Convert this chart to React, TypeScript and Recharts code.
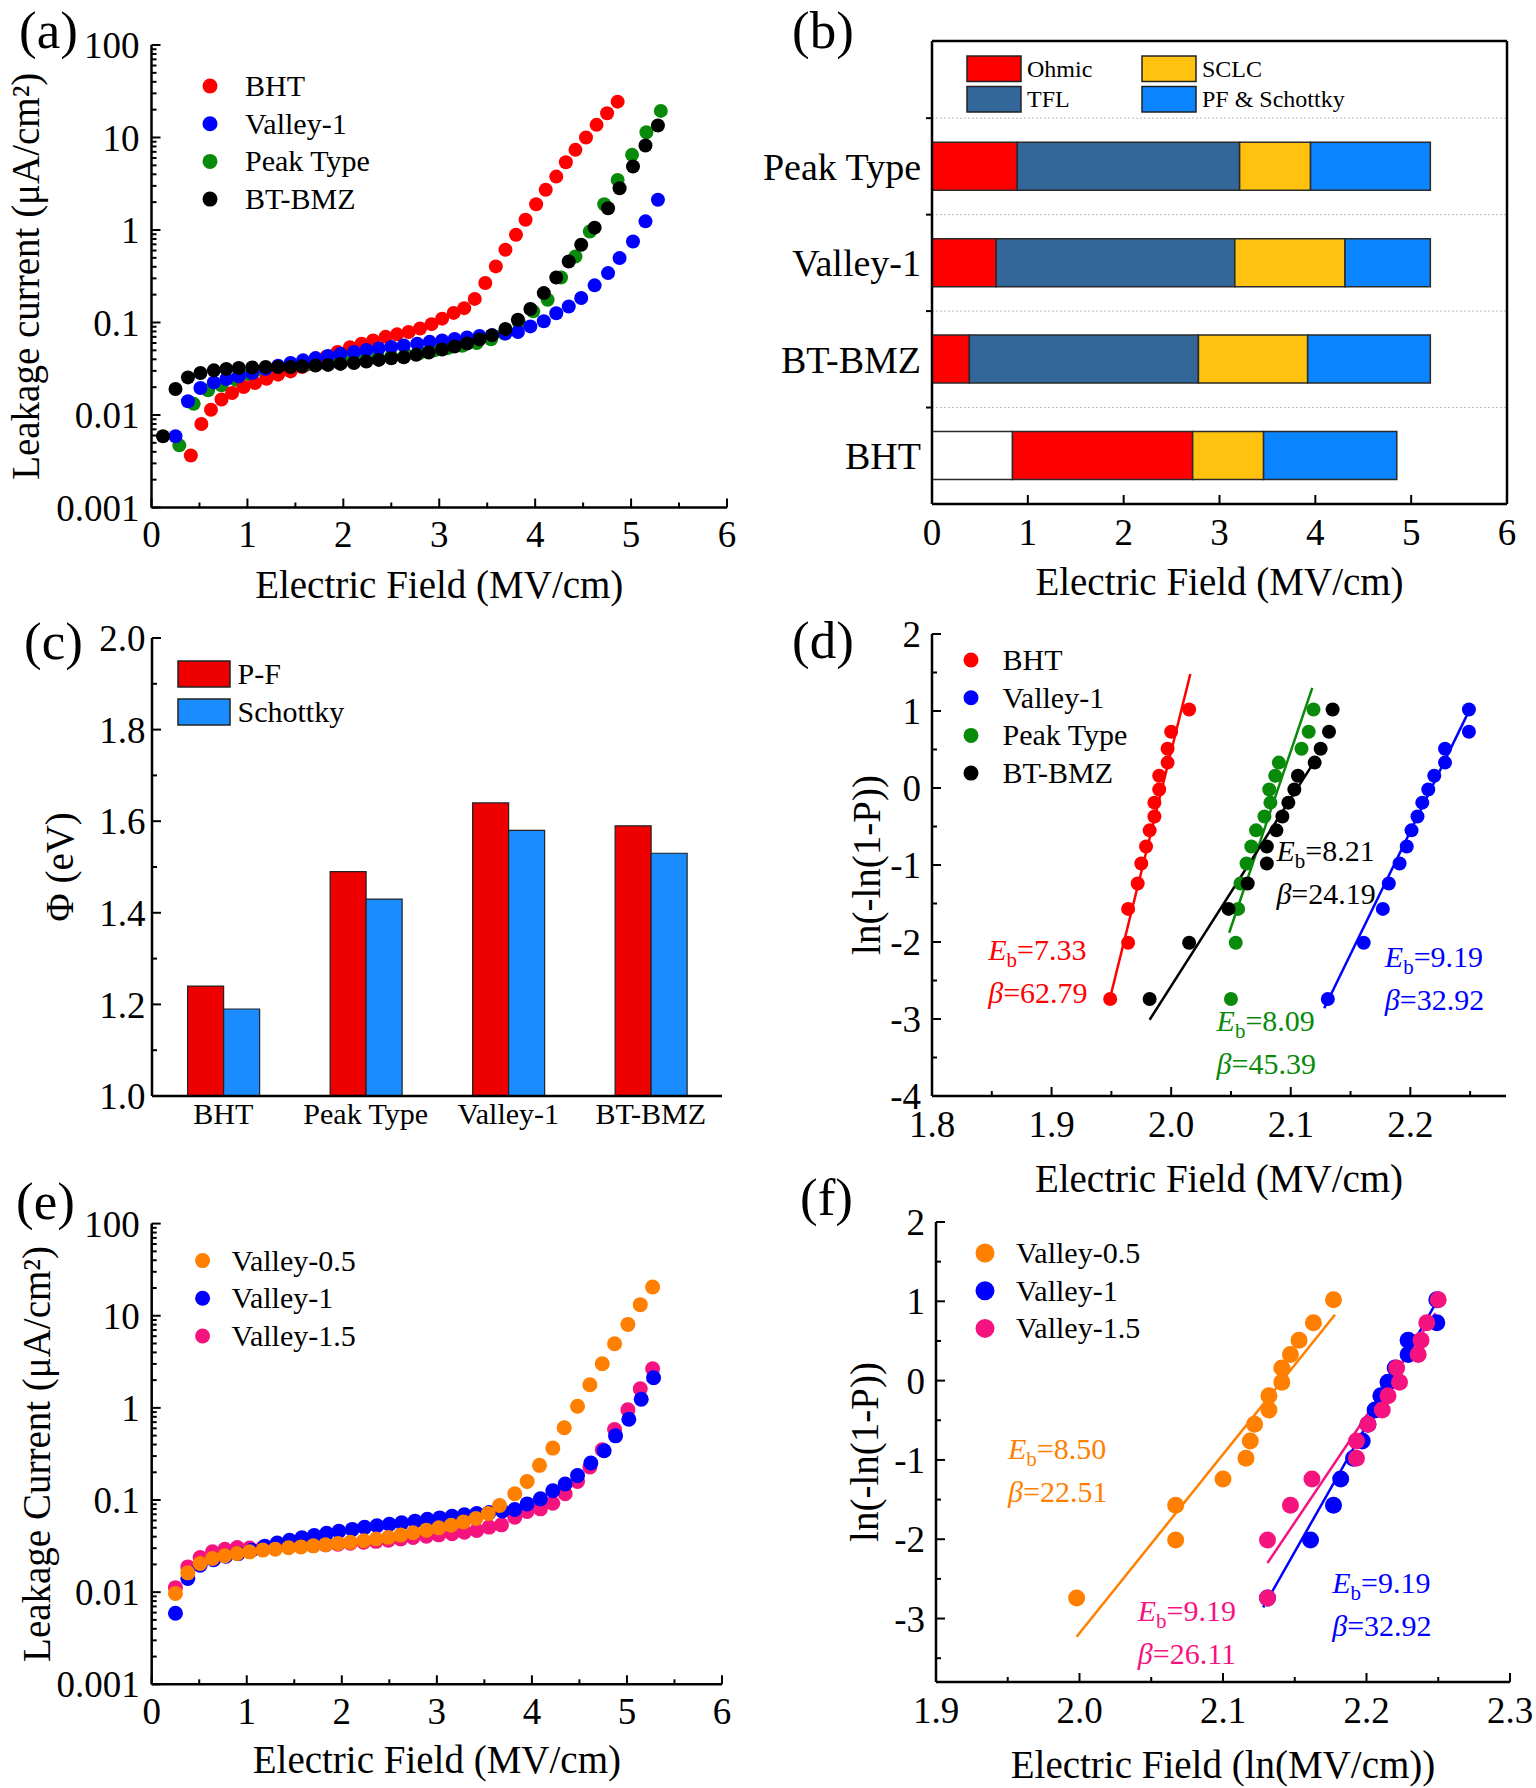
import React from 'react';
import {
    ScatterChart,
    Scatter,
    BarChart,
    Bar,
    XAxis,
    YAxis,
    ReferenceLine,
    ReferenceDot
} from 'recharts';

const FONT = '"Liberation Serif", "Times New Roman", Times, serif';

// ---- (a) leakage current, [field MV/cm, current uA/cm2]
const bhtLeakage = [
    [0.41, 0.00365], [0.52, 0.008], [0.62, 0.0114], [0.73, 0.0147], [0.84, 0.0173], [0.96, 0.0201],
    [1.08, 0.0222], [1.2, 0.0247], [1.32, 0.0273], [1.45, 0.0296], [1.57, 0.033], [1.7, 0.0375],
    [1.82, 0.0425], [1.94, 0.048], [2.07, 0.054], [2.19, 0.059], [2.31, 0.064], [2.44, 0.07],
    [2.56, 0.0745], [2.68, 0.079], [2.8, 0.086], [2.92, 0.096], [3.03, 0.11], [3.15, 0.127],
    [3.26, 0.143], [3.37, 0.18], [3.48, 0.267], [3.59, 0.404], [3.69, 0.611], [3.8, 0.887],
    [3.9, 1.29], [4.01, 1.9], [4.11, 2.72], [4.22, 3.78], [4.32, 5.41], [4.42, 7.35],
    [4.53, 10.0], [4.64, 13.7], [4.75, 18.3], [4.86, 24.4]
];
const valley1Leakage = [
    [0.25, 0.0059], [0.38, 0.0141], [0.51, 0.0196], [0.65, 0.0225], [0.78, 0.0245], [0.91, 0.0262],
    [1.05, 0.0285], [1.19, 0.0315], [1.32, 0.0341], [1.45, 0.0365], [1.58, 0.039], [1.71, 0.0412],
    [1.84, 0.0435], [1.97, 0.0458], [2.11, 0.048], [2.24, 0.0505], [2.37, 0.0525], [2.5, 0.0545],
    [2.63, 0.0565], [2.77, 0.059], [2.9, 0.0618], [3.03, 0.064], [3.16, 0.0665], [3.29, 0.069],
    [3.42, 0.0715], [3.55, 0.073], [3.69, 0.076], [3.82, 0.0788], [3.95, 0.0908], [4.09, 0.103],
    [4.22, 0.126], [4.35, 0.149], [4.48, 0.184], [4.62, 0.252], [4.76, 0.342], [4.88, 0.497],
    [5.02, 0.752], [5.15, 1.24], [5.28, 2.12]
];
const peakLeakage = [
    [0.29, 0.0047], [0.44, 0.0132], [0.59, 0.0185], [0.73, 0.021], [0.88, 0.024], [1.03, 0.027],
    [1.18, 0.029], [1.32, 0.031], [1.47, 0.033], [1.62, 0.035], [1.77, 0.037], [1.91, 0.039],
    [2.06, 0.04], [2.21, 0.041], [2.36, 0.042], [2.5, 0.043], [2.65, 0.045], [2.8, 0.047],
    [2.95, 0.05], [3.09, 0.053], [3.24, 0.056], [3.39, 0.06], [3.54, 0.066], [3.68, 0.076],
    [3.83, 0.1], [3.98, 0.132], [4.13, 0.176], [4.27, 0.307], [4.42, 0.517], [4.57, 0.964],
    [4.72, 1.9], [4.86, 3.48], [5.01, 6.49], [5.16, 11.4], [5.31, 19.4]
];
const btbmzLeakage = [
    [0.12, 0.0059], [0.25, 0.0191], [0.38, 0.0255], [0.51, 0.0285], [0.65, 0.0304], [0.78, 0.0315],
    [0.91, 0.0323], [1.05, 0.0327], [1.19, 0.033], [1.32, 0.033], [1.45, 0.033], [1.57, 0.0336],
    [1.71, 0.0342], [1.84, 0.0348], [1.97, 0.0357], [2.11, 0.0365], [2.24, 0.0378], [2.37, 0.0394],
    [2.5, 0.041], [2.63, 0.042], [2.76, 0.0447], [2.89, 0.0474], [3.03, 0.051], [3.16, 0.055],
    [3.29, 0.0592], [3.42, 0.0657], [3.55, 0.073], [3.69, 0.085], [3.82, 0.107], [3.95, 0.14],
    [4.09, 0.208], [4.22, 0.307], [4.35, 0.457], [4.48, 0.692], [4.62, 1.06], [4.76, 1.72],
    [4.88, 2.83], [5.02, 4.86], [5.15, 8.18], [5.28, 13.5]
];

// ---- (e) leakage current of the valley samples
const valley05Leakage = [
    [0.25, 0.0097], [0.38, 0.0162], [0.51, 0.0205], [0.64, 0.0232], [0.77, 0.0248], [0.9, 0.0263],
    [1.03, 0.0274], [1.17, 0.0286], [1.3, 0.0293], [1.44, 0.0303], [1.57, 0.031], [1.7, 0.0318],
    [1.83, 0.0327], [1.96, 0.0338], [2.09, 0.0347], [2.23, 0.0361], [2.36, 0.0377], [2.49, 0.0393],
    [2.62, 0.0416], [2.75, 0.0441], [2.89, 0.0471], [3.02, 0.0499], [3.15, 0.0533], [3.28, 0.0579],
    [3.41, 0.0631], [3.54, 0.0715], [3.66, 0.0873], [3.82, 0.117], [3.95, 0.159], [4.08, 0.238],
    [4.22, 0.366], [4.34, 0.608], [4.48, 1.04], [4.61, 1.78], [4.74, 3.01], [4.87, 4.97],
    [5.01, 8.05], [5.14, 13.2], [5.27, 20.5]
];
const valley15Leakage = [
    [0.25, 0.0112], [0.38, 0.0188], [0.51, 0.0238], [0.64, 0.0274], [0.77, 0.0292], [0.9, 0.0305],
    [1.03, 0.0302], [1.17, 0.0305], [1.3, 0.0308], [1.44, 0.0312], [1.57, 0.0316], [1.7, 0.032],
    [1.83, 0.0326], [1.96, 0.0332], [2.09, 0.034], [2.23, 0.0348], [2.36, 0.0356], [2.49, 0.0366],
    [2.62, 0.0378], [2.75, 0.0392], [2.89, 0.0405], [3.02, 0.0419], [3.16, 0.043], [3.29, 0.0448],
    [3.42, 0.0468], [3.55, 0.0508], [3.68, 0.0538], [3.82, 0.0652], [3.95, 0.0751], [4.09, 0.0802],
    [4.22, 0.0924], [4.35, 0.117], [4.48, 0.159], [4.61, 0.228], [4.74, 0.351], [4.87, 0.583],
    [5.01, 0.953], [5.14, 1.61], [5.27, 2.66]
];

// axis ticks (major ones get labels)
const FIELD_TICKS = [0, 1, 2, 3, 4, 5, 6];
const FIELD_TICKS_ALL = [0, 0.5, 1, 1.5, 2, 2.5, 3, 3.5, 4, 4.5, 5, 5.5, 6];
const LEAK_TICKS = [0.001, 0.01, 0.1, 1, 10, 100];
const LEAK_TICKS_ALL = LEAK_TICKS.concat(
    LEAK_TICKS.slice(0, -1).flatMap((d) => [2, 3, 4, 5, 6, 7, 8, 9].map((k) => +(k * d).toPrecision(3)))
);

// ---- (b) conduction regimes: where each regime ends (MV/cm)
const regimeSamples = ['BHT', 'BT-BMZ', 'Valley-1', 'Peak Type'];
const blankEnd = [0.84, 0, 0, 0];
const ohmicEnd = [2.72, 0.39, 0.67, 0.89];
const tflEnd = [2.72, 2.78, 3.16, 3.21];
const sclcEnd = [3.46, 3.92, 4.31, 3.95];
const pfEnd = [4.85, 5.2, 5.2, 5.2];

// ---- (c) barrier height
const phiSamples = ['BHT', 'Peak Type', 'Valley-1', 'BT-BMZ'];
const phiPF = [1.24, 1.49, 1.64, 1.59];
const phiSchottky = [1.19, 1.43, 1.58, 1.53];
const PHI_TICKS = [1.0, 1.2, 1.4, 1.6, 1.8, 2.0];
const PHI_TICKS_ALL = [1.0, 1.1, 1.2, 1.3, 1.4, 1.5, 1.6, 1.7, 1.8, 1.9, 2.0];

// ---- (d)/(f) Weibull plots, ln(-ln(1-P)) for the 15 ranks
const weibullY = [1.02, 0.73, 0.51, 0.33, 0.16, -0.02, -0.19, -0.37, -0.55, -0.76, -0.98, -1.24, -1.57, -2.01, -2.74];
const bhtWeibullX = [2.015, 2.0, 1.997, 1.997, 1.99, 1.99, 1.986, 1.986, 1.982, 1.979, 1.975, 1.972, 1.964, 1.964, 1.949];
const valley1WeibullX = [2.249, 2.249, 2.229, 2.229, 2.22, 2.215, 2.21, 2.206, 2.201, 2.197, 2.191, 2.182, 2.177, 2.161, 2.131];
const peakWeibullX = [2.119, 2.115, 2.109, 2.09, 2.087, 2.082, 2.083, 2.078, 2.071, 2.067, 2.063, 2.058, 2.056, 2.054, 2.05];
const btbmzWeibullX = [2.135, 2.132, 2.125, 2.12, 2.106, 2.103, 2.098, 2.093, 2.088, 2.08, 2.08, 2.064, 2.048, 2.015, 1.982];
const valley05WeibullX = [2.177, 2.163, 2.153, 2.147, 2.141, 2.141, 2.132, 2.132, 2.122, 2.119, 2.116, 2.1, 2.067, 2.067, 1.998];
const valley15WeibullX = [2.25, 2.242, 2.238, 2.236, 2.221, 2.223, 2.215, 2.211, 2.201, 2.193, 2.193, 2.162, 2.147, 2.131, 2.131];

const D_X_TICKS = [1.8, 1.9, 2.0, 2.1, 2.2];
const D_X_TICKS_ALL = [1.8, 1.85, 1.9, 1.95, 2.0, 2.05, 2.1, 2.15, 2.2, 2.25];
const D_Y_TICKS = [-4, -3, -2, -1, 0, 1, 2];
const D_Y_TICKS_ALL = [-4, -3.5, -3, -2.5, -2, -1.5, -1, -0.5, 0, 0.5, 1, 1.5, 2];
const F_X_TICKS = [1.9, 2.0, 2.1, 2.2, 2.3];
const F_X_TICKS_ALL = [1.9, 1.95, 2.0, 2.05, 2.1, 2.15, 2.2, 2.25, 2.3];
const F_Y_TICKS = [-3, -2, -1, 0, 1, 2];
const F_Y_TICKS_ALL = [-3.5, -3, -2.5, -2, -1.5, -1, -0.5, 0, 0.5, 1, 1.5, 2];

// fitted lines, two end points each
const bhtFit = [[1.949, -2.72], [2.016, 1.48]];
const peakFit = [[2.0485, -1.88], [2.118, 1.3]];
const btbmzFit = [[1.982, -3.01], [2.12, 0.35]];
const valley1Fit = [[2.128, -2.86], [2.2506, 1.05]];
const valley05Fit = [[1.998, -3.23], [2.178, 0.83]];
const valley15Fit = [[2.131, -2.3], [2.248, 0.85]];

const RED = '#ff0000';
const BLUE = '#0000ff';
const GREEN = '#0a8a0a';
const BLACK = '#000000';
const ORANGE = '#ff7f00';
const PINK = '#f5147f';

const toPts = (arr: number[][]) => arr.map(([x, y]) => ({ x, y }));
const weib = (xs: number[]) => xs.map((x, i) => ({ x, y: weibullY[i] }));
const seg = (arr: number[][]) => arr.map(([x, y]) => ({ x, y }));

const seriesA = [
    { name: 'Peak Type', color: GREEN, data: toPts(peakLeakage) },
    { name: 'BHT', color: RED, data: toPts(bhtLeakage) },
    { name: 'Valley-1', color: BLUE, data: toPts(valley1Leakage) },
    { name: 'BT-BMZ', color: BLACK, data: toPts(btbmzLeakage) }
];
const seriesE = [
    { name: 'Valley-1.5', color: PINK, data: toPts(valley15Leakage) },
    { name: 'Valley-1', color: BLUE, data: toPts(valley1Leakage) },
    { name: 'Valley-0.5', color: ORANGE, data: toPts(valley05Leakage) }
];
const seriesD = [
    { name: 'BHT', color: RED, data: weib(bhtWeibullX), fit: bhtFit },
    { name: 'Valley-1', color: BLUE, data: weib(valley1WeibullX), fit: valley1Fit },
    { name: 'Peak Type', color: GREEN, data: weib(peakWeibullX), fit: peakFit },
    { name: 'BT-BMZ', color: BLACK, data: weib(btbmzWeibullX), fit: btbmzFit }
];
const seriesF = [
    { name: 'Valley-0.5', color: ORANGE, data: weib(valley05WeibullX), fit: valley05Fit },
    { name: 'Valley-1', color: BLUE, data: weib(valley1WeibullX), fit: valley1Fit },
    { name: 'Valley-1.5', color: PINK, data: weib(valley15WeibullX), fit: valley15Fit }
];

const notesD = [
    { x: 1.847, y: -2.234, color: RED, eb: '7.33', beta: '62.79' },
    { x: 2.088, y: -0.948, color: BLACK, eb: '8.21', beta: '24.19' },
    { x: 2.038, y: -3.156, color: GREEN, eb: '8.09', beta: '45.39' },
    { x: 2.1787, y: -2.331, color: BLUE, eb: '9.19', beta: '32.92' }
];
const notesF = [
    { x: 1.9502, y: -0.985, color: ORANGE, eb: '8.50', beta: '22.51' },
    { x: 2.0406, y: -3.025, color: PINK, eb: '9.19', beta: '26.11' },
    { x: 2.1761, y: -2.683, color: BLUE, eb: '9.19', beta: '32.92' }
];

const regimeRows = regimeSamples.map((name, i) => ({
    name,
    pos: i + 1,
    blank: blankEnd[i],
    ohmic: ohmicEnd[i] - blankEnd[i],
    tfl: tflEnd[i] - ohmicEnd[i],
    sclc: sclcEnd[i] - tflEnd[i],
    pf: pfEnd[i] - sclcEnd[i]
}));
const phiRows = phiSamples.map((name, i) => ({ name, pf: phiPF[i], schottky: phiSchottky[i] }));

// panel boxes in page pixels
const geoA = { left: 0, top: 0, width: 760, height: 610, plotLeft: 151.5, plotTop: 45, plotRight: 727, plotBottom: 507.5 };
const geoB = { left: 740, top: 0, width: 796, height: 610, plotLeft: 932, plotTop: 41, plotRight: 1507, plotBottom: 504 };
const geoC = { left: 0, top: 600, width: 760, height: 580, plotLeft: 152, plotTop: 638, plotRight: 722, plotBottom: 1096 };
const geoD = { left: 770, top: 600, width: 766, height: 600, plotLeft: 932, plotTop: 634, plotRight: 1506, plotBottom: 1096 };
const geoE = { left: 0, top: 1190, width: 760, height: 598, plotLeft: 151.7, plotTop: 1223.6, plotRight: 722, plotBottom: 1684.3 };
const geoF = { left: 770, top: 1190, width: 766, height: 598, plotLeft: 936, plotTop: 1222, plotRight: 1510, plotBottom: 1682 };

type Geo = typeof geoA;

const inner = (g: Geo) => ({
    mt: g.plotTop - g.top,
    mr: g.left + g.width - g.plotRight,
    yw: g.plotLeft - g.left,
    xh: g.top + g.height - g.plotBottom
});

const AXIS_LINE = { stroke: '#000', strokeWidth: 2.5 };
const TICK_LINE = { stroke: '#000', strokeWidth: 2 };
const tickStyle = (size: number) => ({ fill: '#000', fontSize: size, fontFamily: FONT });
const titleStyle = { fill: '#000', fontSize: 39, fontFamily: FONT };

// inward major/minor tick marks, label only on the majors
const makeTick = (side: 'bottom' | 'left', majors: number[], fmt: (v: number) => string, size: number, gap: number, majorLen = 9, minorLen = 5) =>
    (p: any) => {
        const v = p.payload.value;
        const major = majors.some((m) => Math.abs(m - v) < 1e-9);
        const len = major ? majorLen : minorLen;
        if (side === 'bottom') {
            return (
                <g>
                    {len !== 0 && <line x1={p.x} x2={p.x} y1={p.y} y2={p.y - len} stroke="#000" strokeWidth={2} />}
                    {major && (
                        <text x={p.x} y={p.y + gap} dy="0.71em" textAnchor="middle" fill="#000" fontSize={size} fontFamily={FONT}>
                            {fmt(v)}
                        </text>
                    )}
                </g>
            );
        }
        return (
            <g>
                {len !== 0 && <line x1={p.x} x2={p.x + len} y1={p.y} y2={p.y} stroke="#000" strokeWidth={2} />}
                {major && (
                    <text x={p.x - gap} y={p.y} dy="0.355em" textAnchor="end" fill="#000" fontSize={size} fontFamily={FONT}>
                        {fmt(v)}
                    </text>
                )}
            </g>
        );
    };

const customTickAxis = { tickLine: false, tickSize: 0, tickMargin: 0, interval: 0 as const };

const xTitle = (g: Geo, value: string, baseline: number) => ({
    value,
    position: 'insideBottom' as const,
    offset: g.top + g.height - baseline,
    ...titleStyle
});
const yTitle = (g: Geo, value: string, centerX: number) => ({
    value,
    position: 'insideLeft' as const,
    angle: -90,
    offset: centerX - g.left,
    style: { textAnchor: 'middle' },
    ...titleStyle
});

// top and right axes only close the frame
const frameAxes = (xType: 'number' | 'category', xDomain: any, yDomain: any, yScale?: 'log') => [
    <XAxis
        key="ft"
        xAxisId="top"
        orientation="top"
        type={xType}
        dataKey={xType === 'category' ? 'name' : 'x'}
        domain={xDomain}
        allowDataOverflow
        height={0}
        tick={false}
        tickLine={false}
        axisLine={AXIS_LINE}
    />,
    <YAxis
        key="fr"
        yAxisId="right"
        orientation="right"
        type="number"
        scale={yScale}
        domain={yDomain}
        allowDataOverflow
        width={0}
        tick={false}
        tickLine={false}
        axisLine={AXIS_LINE}
    />
];

const dot = (color: string, r: number) => (p: any) => <circle cx={p.cx} cy={p.cy} r={r} fill={color} />;

const LeakagePanel = ({ g, series, r, yLabel, xBase, yCenter }: any) => {
    const b = inner(g);
    return (
        <div style={{ position: 'absolute', left: g.left, top: g.top }}>
            <ScatterChart width={g.width} height={g.height} margin={{ top: b.mt, right: b.mr, bottom: 0, left: 0 }}>
                <XAxis
                    type="number"
                    dataKey="x"
                    domain={[0, 6]}
                    ticks={FIELD_TICKS_ALL}
                    allowDataOverflow
                    height={b.xh}
                    axisLine={AXIS_LINE}
                    {...customTickAxis}
                    tick={makeTick('bottom', FIELD_TICKS, (v) => String(v), 37, 13.5)}
                    label={xTitle(g, 'Electric Field (MV/cm)', xBase)}
                />
                <YAxis
                    type="number"
                    dataKey="y"
                    scale="log"
                    domain={[0.001, 100]}
                    ticks={LEAK_TICKS_ALL}
                    allowDataOverflow
                    width={b.yw}
                    axisLine={AXIS_LINE}
                    {...customTickAxis}
                    tick={makeTick('left', LEAK_TICKS, (v) => String(v), 37, 12)}
                    label={yTitle(g, yLabel, yCenter)}
                />
                {frameAxes('number', [0, 6], [0.001, 100], 'log')}
                {series.map((s: any) => (
                    <Scatter key={s.name} name={s.name} data={s.data} fill={s.color} shape={dot(s.color, r)} isAnimationActive={false} />
                ))}
            </ScatterChart>
        </div>
    );
};

const Note = ({ cx, cy, n }: any) => (
    <g fill={n.color} fontFamily={FONT} fontSize={30}>
        <text x={cx} y={cy}>
            <tspan fontStyle="italic">E</tspan>
            <tspan fontSize={21} dy={7}>b</tspan>
            <tspan dy={-7}>={n.eb}</tspan>
        </text>
        <text x={cx} y={cy + 43}>
            <tspan fontStyle="italic">β</tspan>
            <tspan>={n.beta}</tspan>
        </text>
    </g>
);

const WeibullPanel = ({ g, series, notes, xDomain, xTicks, xTicksAll, yDomain, yTicks, yTicksAll, r, xLabel, xBase, yCenter }: any) => {
    const b = inner(g);
    return (
        <div style={{ position: 'absolute', left: g.left, top: g.top }}>
            <ScatterChart width={g.width} height={g.height} margin={{ top: b.mt, right: b.mr, bottom: 0, left: 0 }}>
                <XAxis
                    type="number"
                    dataKey="x"
                    domain={xDomain}
                    ticks={xTicksAll}
                    allowDataOverflow
                    height={b.xh}
                    axisLine={AXIS_LINE}
                    {...customTickAxis}
                    tick={makeTick('bottom', xTicks, (v) => v.toFixed(1), 37, 14.5)}
                    label={xTitle(g, xLabel, xBase)}
                />
                <YAxis
                    type="number"
                    dataKey="y"
                    domain={yDomain}
                    ticks={yTicksAll}
                    allowDataOverflow
                    width={b.yw}
                    axisLine={AXIS_LINE}
                    {...customTickAxis}
                    tick={makeTick('left', yTicks, (v) => String(v), 37, 11)}
                    label={yTitle(g, 'ln(-ln(1-P))', yCenter)}
                />
                {frameAxes('number', xDomain, yDomain)}
                {series.map((s: any) => (
                    <ReferenceLine key={'fit' + s.name} segment={seg(s.fit)} stroke={s.color} strokeWidth={2.5} ifOverflow="visible" />
                ))}
                {series.map((s: any) => (
                    <Scatter key={s.name} name={s.name} data={s.data} fill={s.color} shape={dot(s.color, r)} isAnimationActive={false} />
                ))}
                {notes.map((n: any, i: number) => (
                    <ReferenceDot key={'n' + i} x={n.x} y={n.y} r={0} ifOverflow="visible" shape={(p: any) => <Note cx={p.cx} cy={p.cy} n={n} />} />
                ))}
            </ScatterChart>
        </div>
    );
};

const RegimePanel = () => {
    const g = geoB;
    const b = inner(g);
    const stroke = '#2a2a2a';
    return (
        <div style={{ position: 'absolute', left: g.left, top: g.top }}>
            <BarChart
                layout="vertical"
                data={regimeRows}
                width={g.width}
                height={g.height}
                barSize={48}
                margin={{ top: b.mt, right: b.mr, bottom: 0, left: 0 }}
            >
                <XAxis
                    type="number"
                    domain={[0, 6]}
                    ticks={FIELD_TICKS}
                    allowDataOverflow
                    height={b.xh}
                    axisLine={AXIS_LINE}
                    tickLine={TICK_LINE}
                    tickSize={-9}
                    tickMargin={24}
                    tick={tickStyle(37)}
                    label={xTitle(g, 'Electric Field (MV/cm)', 595)}
                />
                <YAxis
                    type="number"
                    dataKey="pos"
                    domain={[0.5, 5.3]}
                    ticks={[1, 1.5, 2, 2.5, 3, 3.5, 4, 4.5]}
                    reversed
                    allowDataOverflow
                    width={b.yw}
                    axisLine={AXIS_LINE}
                    {...customTickAxis}
                    tick={makeTick('left', [1, 2, 3, 4], (v) => regimeSamples[v - 1] ?? '', 38, 11, 0, -6)}
                />
                {[1.5, 2.5, 3.5, 4.5].map((y) => (
                    <ReferenceLine key={y} y={y} stroke="#bdbdbd" strokeDasharray="2 2" strokeWidth={1} />
                ))}
                <ReferenceLine y={5.3} stroke="#000" strokeWidth={2.5} ifOverflow="visible" />
                <ReferenceLine x={6} stroke="#000" strokeWidth={2.5} ifOverflow="visible" />
                <Bar dataKey="blank" stackId="s" fill="#ffffff" stroke={stroke} strokeWidth={1.5} isAnimationActive={false} />
                <Bar dataKey="ohmic" stackId="s" fill="#ff0000" stroke={stroke} strokeWidth={1.5} isAnimationActive={false} />
                <Bar dataKey="tfl" stackId="s" fill="#336699" stroke={stroke} strokeWidth={1.5} isAnimationActive={false} />
                <Bar dataKey="sclc" stackId="s" fill="#ffc20e" stroke={stroke} strokeWidth={1.5} isAnimationActive={false} />
                <Bar dataKey="pf" stackId="s" fill="#0a84ff" stroke={stroke} strokeWidth={1.5} isAnimationActive={false} />
            </BarChart>
        </div>
    );
};

const PhiPanel = () => {
    const g = geoC;
    const b = inner(g);
    return (
        <div style={{ position: 'absolute', left: g.left, top: g.top }}>
            <BarChart
                data={phiRows}
                width={g.width}
                height={g.height}
                barCategoryGap="25%"
                barGap={0}
                margin={{ top: b.mt, right: b.mr, bottom: 0, left: 0 }}
            >
                <XAxis
                    dataKey="name"
                    type="category"
                    height={b.xh}
                    axisLine={AXIS_LINE}
                    tickLine={false}
                    tickSize={0}
                    tickMargin={7}
                    tick={tickStyle(30)}
                />
                <YAxis
                    type="number"
                    domain={[1.0, 2.0]}
                    ticks={PHI_TICKS_ALL}
                    allowDataOverflow
                    width={b.yw}
                    axisLine={AXIS_LINE}
                    {...customTickAxis}
                    tick={makeTick('left', PHI_TICKS, (v) => v.toFixed(1), 37, 6.5)}
                    label={yTitle(g, 'Φ (eV)', 59)}
                />
                {frameAxes('category', undefined, [1.0, 2.0])}
                <Bar dataKey="pf" fill="#ee0000" stroke="#222" strokeWidth={1.2} isAnimationActive={false} />
                <Bar dataKey="schottky" fill="#1a8cff" stroke="#222" strokeWidth={1.2} isAnimationActive={false} />
            </BarChart>
        </div>
    );
};

const DotLegend = ({ x, y, r, dx, items }: any) => (
    <g>
        {items.map((it: any, i: number) => (
            <g key={it.name}>
                <circle cx={x} cy={y + i * 37.7} r={r} fill={it.color} />
                <text x={x + dx} y={y + i * 37.7 + 10} fontSize={30} fontFamily={FONT} fill="#000">
                    {it.name}
                </text>
            </g>
        ))}
    </g>
);

const BoxLegend = ({ items, w, h, size, dx }: any) => (
    <g>
        {items.map((it: any) => (
            <g key={it.name}>
                <rect x={it.x} y={it.y} width={w} height={h} fill={it.color} stroke="#222" strokeWidth={1.5} />
                <text x={it.x + w + dx} y={it.y + h / 2 + size * 0.34} fontSize={size} fontFamily={FONT} fill="#000">
                    {it.name}
                </text>
            </g>
        ))}
    </g>
);

const Overlay = () => (
    <svg width={1536} height={1788} style={{ position: 'absolute', left: 0, top: 0, pointerEvents: 'none' }}>
        <g fontFamily={FONT} fontSize={53} fill="#000">
            <text x={19} y={48}>(a)</text>
            <text x={792} y={48}>(b)</text>
            <text x={24} y={659}>(c)</text>
            <text x={792} y={658}>(d)</text>
            <text x={16} y={1219}>(e)</text>
            <text x={800} y={1215}>(f)</text>
        </g>
        <DotLegend
            x={210}
            y={86}
            r={7.5}
            dx={35}
            items={[
                { name: 'BHT', color: RED },
                { name: 'Valley-1', color: BLUE },
                { name: 'Peak Type', color: GREEN },
                { name: 'BT-BMZ', color: BLACK }
            ]}
        />
        <BoxLegend
            w={54}
            h={25.5}
            size={24}
            dx={6}
            items={[
                { name: 'Ohmic', color: '#ff0000', x: 967, y: 56 },
                { name: 'TFL', color: '#336699', x: 967, y: 86.5 },
                { name: 'SCLC', color: '#ffc20e', x: 1142, y: 56 },
                { name: 'PF & Schottky', color: '#0a84ff', x: 1142, y: 86.5 }
            ]}
        />
        <BoxLegend
            w={52}
            h={26}
            size={30}
            dx={7.5}
            items={[
                { name: 'P-F', color: '#ee0000', x: 178, y: 661 },
                { name: 'Schottky', color: '#1a8cff', x: 178, y: 699 }
            ]}
        />
        <DotLegend
            x={971}
            y={660}
            r={7.5}
            dx={31.5}
            items={[
                { name: 'BHT', color: RED },
                { name: 'Valley-1', color: BLUE },
                { name: 'Peak Type', color: GREEN },
                { name: 'BT-BMZ', color: BLACK }
            ]}
        />
        <DotLegend
            x={202.6}
            y={1260.6}
            r={7.5}
            dx={29}
            items={[
                { name: 'Valley-0.5', color: ORANGE },
                { name: 'Valley-1', color: BLUE },
                { name: 'Valley-1.5', color: PINK }
            ]}
        />
        <DotLegend
            x={985}
            y={1253}
            r={9.5}
            dx={31}
            items={[
                { name: 'Valley-0.5', color: ORANGE },
                { name: 'Valley-1', color: BLUE },
                { name: 'Valley-1.5', color: PINK }
            ]}
        />
    </svg>
);

export default function App() {
    return (
        <div style={{ position: 'absolute', left: 0, top: 0, width: 1536, height: 1788, background: '#fff', overflow: 'hidden' }}>
            <LeakagePanel g={geoA} series={seriesA} r={7} yLabel="Leakage current (μA/cm²)" xBase={598} yCenter={25} />
            <RegimePanel />
            <PhiPanel />
            <WeibullPanel
                g={geoD}
                series={seriesD}
                notes={notesD}
                xDomain={[1.8, 2.28]}
                xTicks={D_X_TICKS}
                xTicksAll={D_X_TICKS_ALL}
                yDomain={[-4, 2]}
                yTicks={D_Y_TICKS}
                yTicksAll={D_Y_TICKS_ALL}
                r={7}
                xLabel="Electric Field (MV/cm)"
                xBase={1192}
                yCenter={866}
            />
            <LeakagePanel g={geoE} series={seriesE} r={7.5} yLabel="Leakage Current (μA/cm²)" xBase={1773} yCenter={36} />
            <WeibullPanel
                g={geoF}
                series={seriesF}
                notes={notesF}
                xDomain={[1.9, 2.3]}
                xTicks={F_X_TICKS}
                xTicksAll={F_X_TICKS_ALL}
                yDomain={[-3.8, 2]}
                yTicks={F_Y_TICKS}
                yTicksAll={F_Y_TICKS_ALL}
                r={8.5}
                xLabel="Electric Field (ln(MV/cm))"
                xBase={1778}
                yCenter={864}
            />
            <Overlay />
        </div>
    );
}
